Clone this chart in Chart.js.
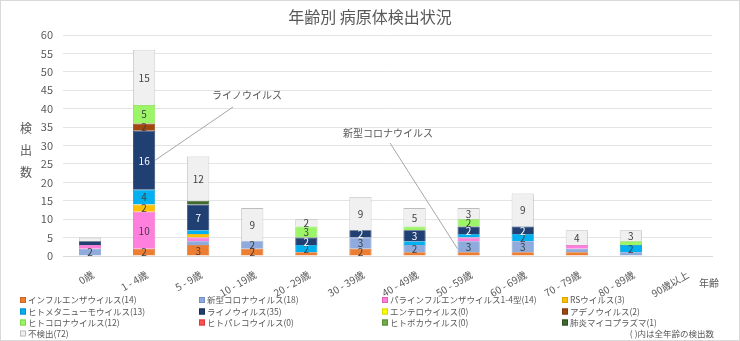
<!DOCTYPE html>
<html lang="ja">
<head>
<meta charset="utf-8">
<title>年齢別 病原体検出状況</title>
<script src="https://cdn.jsdelivr.net/npm/chart.js@4.4.1/dist/chart.umd.min.js"></script>
<style>
  html, body { margin: 0; padding: 0; background: #ffffff; }
  #wrap { width: 740px; height: 341px; position: relative; }
  canvas { display: block; }
</style>
</head>
<body>
<div id="wrap"><canvas id="c" width="740" height="341"></canvas></div>
<script>
// 年齢区分
const ageGroups = ['0歳', '1 - 4歳', '5 - 9歳', '10 - 19歳', '20 - 29歳', '30 - 39歳',
  '40 - 49歳', '50 - 59歳', '60 - 69歳', '70 - 79歳', '80 - 89歳', '90歳以上'];

// 病原体別の検出数（年齢区分順）
const influenza     = [0, 2, 3, 2, 1, 2, 1, 1, 1, 1, 0, 0];
const covid19       = [2, 0, 1, 2, 0, 3, 2, 3, 3, 1, 1, 0];
const parainfluenza = [1, 10, 1, 0, 0, 0, 0, 1, 0, 1, 0, 0];
const rsv           = [0, 2, 1, 0, 0, 0, 0, 0, 0, 0, 0, 0];
const metapneumo    = [0, 4, 1, 0, 2, 0, 1, 1, 2, 0, 2, 0];
const rhino         = [1, 16, 7, 0, 2, 2, 3, 2, 2, 0, 0, 0];
const entero        = [0, 0, 0, 0, 0, 0, 0, 0, 0, 0, 0, 0];
const adeno         = [0, 2, 0, 0, 0, 0, 0, 0, 0, 0, 0, 0];
const humanCorona   = [0, 5, 0, 0, 3, 0, 1, 2, 0, 0, 1, 0];
const parecho       = [0, 0, 0, 0, 0, 0, 0, 0, 0, 0, 0, 0];
const boca          = [0, 0, 0, 0, 0, 0, 0, 0, 0, 0, 0, 0];
const mycoplasma    = [0, 0, 1, 0, 0, 0, 0, 0, 0, 0, 0, 0];
const notDetected   = [1, 15, 12, 9, 2, 9, 5, 3, 9, 4, 3, 0];

// 軸目盛
const yTicks = [0, 5, 10, 15, 20, 25, 30, 35, 40, 45, 50, 55, 60];

const series = [
  { name: 'インフルエンザウイルス', data: influenza, color: '#ED7D31', border: '#C9661F' },
  { name: '新型コロナウイルス', data: covid19, color: '#8FAADC', border: '#7390C4' },
  { name: 'パラインフルエンザウイルス1-4型', data: parainfluenza, color: '#FF7FDC', border: '#E060BE' },
  { name: 'RSウイルス', data: rsv, color: '#FFC000', border: '#D9A300' },
  { name: 'ヒトメタニューモウイルス', data: metapneumo, color: '#00B0F0', border: '#0090C8' },
  { name: 'ライノウイルス', data: rhino, color: '#203F73', border: '#162C52' },
  { name: 'エンテロウイルス', data: entero, color: '#FFFF00', border: '#D6D600' },
  { name: 'アデノウイルス', data: adeno, color: '#A0460F', border: '#7E360A' },
  { name: 'ヒトコロナウイルス', data: humanCorona, color: '#9CF567', border: '#7DD64A' },
  { name: 'ヒトパレコウイルス', data: parecho, color: '#FF5050', border: '#D93B3B' },
  { name: 'ヒトボカウイルス', data: boca, color: '#70AD47', border: '#568C34' },
  { name: '肺炎マイコプラズマ', data: mycoplasma, color: '#3E6A2B', border: '#2C4E1E' },
  { name: '不検出', data: notDetected, color: '#F0F0F0', border: '#BDBDBD' }
];

const FONT = '"Noto Sans CJK JP", "Noto Sans", sans-serif';
const TEXT = '#595959';
const sum = a => a.reduce((s, v) => s + v, 0);

// 積み上げの各区分に数値を描く（2以上のみ）
const segmentLabels = {
  id: 'segmentLabels',
  afterDatasetsDraw(chart) {
    const ctx = chart.ctx;
    ctx.save();
    ctx.font = '10px ' + FONT;
    ctx.textAlign = 'center';
    ctx.textBaseline = 'middle';
    chart.data.datasets.forEach((ds, i) => {
      const meta = chart.getDatasetMeta(i);
      meta.data.forEach((bar, j) => {
        const v = ds.data[j];
        if (v < 2) return;
        const p = bar.getProps(['x', 'y', 'base'], true);
        ctx.fillStyle = ds.labelColor || '#404040';
        ctx.fillText(String(v), p.x, (p.y + p.base) / 2 + 0.5);
      });
    });
    ctx.restore();
  }
};

// 斜めの年齢区分ラベル（x軸の目盛位置に合わせる）
const slantedTicks = {
  id: 'slantedTicks',
  afterDraw(chart) {
    const ctx = chart.ctx;
    const xs = chart.scales.x;
    ctx.save();
    ctx.fillStyle = TEXT;
    ctx.font = '10px ' + FONT;
    ctx.textAlign = 'right';
    ctx.textBaseline = 'middle';
    xs.ticks.forEach((t, i) => {
      const px = xs.getPixelForTick(i);
      ctx.save();
      ctx.translate(px + 6, xs.top + 23);
      ctx.rotate(-Math.PI / 6);
      ctx.fillText(ageGroups[t.value], 0, -6);
      ctx.restore();
    });
    ctx.restore();
  }
};

// 注記（引き出し線つき）
const callouts = [
  { text: 'ライノウイルス', series: 5, cat: 1, tx: 212, ty: 95, lx: 233, ly: 107, side: 'right' },
  { text: '新型コロナウイルス', series: 1, cat: 7, tx: 343, ty: 133, lx: 390, ly: 143, side: 'left' }
];

const decorations = {
  id: 'decorations',
  afterDraw(chart) {
    const ctx = chart.ctx;
    ctx.save();

    // 外枠
    ctx.strokeStyle = '#D9D9D9';
    ctx.lineWidth = 1;
    ctx.strokeRect(0.5, 0.5, chart.width - 1, chart.height - 1);

    // タイトル
    ctx.fillStyle = TEXT;
    ctx.font = '16px ' + FONT;
    ctx.textAlign = 'center';
    ctx.textBaseline = 'middle';
    ctx.fillText('年齢別 病原体検出状況', chart.width / 2, 17);

    // 縦軸タイトル（縦書き）
    ctx.font = '12px ' + FONT;
    ['検', '出', '数'].forEach((ch, k) => ctx.fillText(ch, 26, 128 + k * 22));

    // 横軸タイトル
    ctx.font = '10px ' + FONT;
    ctx.fillText('年齢', 709, 283);

    // 注記
    callouts.forEach(c => {
      const bar = chart.getDatasetMeta(c.series).data[c.cat];
      const p = bar.getProps(['x', 'y', 'base', 'width'], true);
      const ex = c.side === 'right' ? p.x + p.width / 2 : p.x - p.width / 2;
      const ey = (p.y + p.base) / 2 + (c.side === 'left' ? 2 : 0);
      ctx.strokeStyle = '#A6A6A6';
      ctx.lineWidth = 1;
      ctx.beginPath();
      ctx.moveTo(c.lx, c.ly);
      ctx.lineTo(ex, ey);
      ctx.stroke();
      ctx.fillStyle = TEXT;
      ctx.font = '10px ' + FONT;
      ctx.textAlign = 'left';
      ctx.textBaseline = 'middle';
      ctx.fillText(c.text, c.tx, c.ty);
    });

    // 凡例（4列）
    const colX = [20, 199, 382, 562];
    const rowY = [300, 311.5, 322.5, 333.5];
    ctx.font = '8.5px ' + FONT;
    ctx.textAlign = 'left';
    ctx.textBaseline = 'middle';
    series.forEach((s, k) => {
      const x = colX[k % 4];
      const y = rowY[Math.floor(k / 4)];
      ctx.fillStyle = s.color;
      ctx.fillRect(x, y - 3, 6, 6);
      ctx.strokeStyle = s.border;
      ctx.strokeRect(x + 0.5, y - 2.5, 5, 5);
      ctx.fillStyle = TEXT;
      ctx.fillText(s.name + '(' + sum(s.data) + ')', x + 8, y);
    });
    ctx.textAlign = 'right';
    ctx.fillText('( )内は全年齢の検出数', 714, 333.5);

    ctx.restore();
  }
};

const chart = new Chart(document.getElementById('c'), {
  type: 'bar',
  data: {
    labels: ageGroups,
    datasets: series.map((s, i) => ({
      label: s.name,
      data: s.data,
      backgroundColor: s.color,
      borderColor: s.border,
      borderWidth: 0.8,
      labelColor: i === 5 ? '#FFFFFF' : '#404040',
      barPercentage: 0.41,
      categoryPercentage: 1.0
    }))
  },
  options: {
    responsive: false,
    animation: false,
    devicePixelRatio: 1,
    layout: { padding: { top: 35, right: 28, left: 0, bottom: 0 } },
    plugins: {
      legend: { display: false },
      title: { display: false },
      tooltip: { enabled: false }
    },
    scales: {
      x: {
        stacked: true,
        grid: { display: false },
        border: { display: true, color: '#D9D9D9' },
        ticks: { display: false, autoSkip: false },
        afterFit(scale) { scale.height = 85; }
      },
      y: {
        stacked: true,
        min: yTicks[0],
        max: yTicks[yTicks.length - 1],
        afterBuildTicks(scale) { scale.ticks = yTicks.map(v => ({ value: v })); },
        grid: { color: '#E4E4E4', drawTicks: false },
        border: { display: false },
        ticks: {
          color: TEXT,
          font: { family: FONT, size: 11 },
          padding: 10
        },
        afterFit(scale) { scale.width = 63; }
      }
    }
  },
  plugins: [segmentLabels, slantedTicks, decorations]
});
</script>
</body>
</html>
